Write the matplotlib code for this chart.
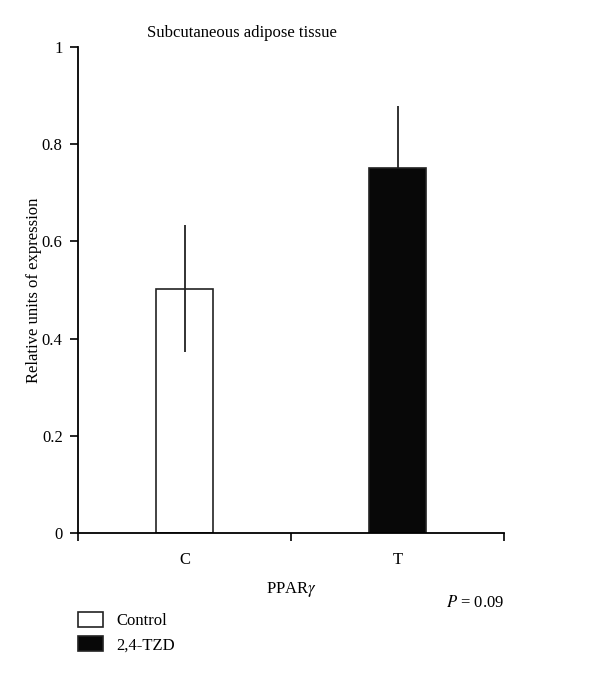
import matplotlib.pyplot as plt
from matplotlib.patches import Patch

groups = ['C', 'T']
legend_labels = ['Control', '2,4-TZD']
values = [0.503, 0.752]
errors = [0.13, 0.127]
colors = ['white', '#080808']
yticks = [0, 0.2, 0.4, 0.6, 0.8, 1]
ytick_labels = ['0', '0.2', '0.4', '0.6', '0.8', '1']

plt.rcParams['font.family'] = ['Liberation Serif', 'DejaVu Serif']
plt.rcParams['mathtext.fontset'] = 'stix'
plt.rcParams['font.size'] = 12

fig = plt.figure(figsize=(6, 6.76), dpi=100)
ax = fig.add_axes([0.13, 0.2115, 0.71, 0.719])

pos = [0.5, 1.5]
ax.bar(pos, values, width=0.27, color=colors, edgecolor='#222222', linewidth=1.2, zorder=2)
# lower whisker of the dark bar is hidden inside the bar
yerr = [[errors[0], 0], errors]
ax.errorbar(pos, values, yerr=yerr, fmt='none', ecolor='#222222', elinewidth=1.3,
            capsize=0, zorder=3)

ax.set_xlim(0, 2)
ax.set_ylim(0, 1)
ax.set_yticks(yticks)
ax.set_yticklabels(ytick_labels)
ax.set_xticks([0, 1, 2])
ax.set_xticklabels(['', '', ''])
ax.set_xticks(pos, minor=True)
ax.set_xticklabels(groups, minor=True)
ax.tick_params(axis='x', which='minor', length=0, pad=14)
ax.tick_params(axis='x', which='major', length=6, width=1.2, direction='out')
ax.tick_params(axis='y', length=6, width=1.2, direction='out', pad=5)

for s in ['top', 'right']:
    ax.spines[s].set_visible(False)
for s in ['left', 'bottom']:
    ax.spines[s].set_linewidth(1.3)

ax.set_ylabel('Relative units of expression', labelpad=0)
ax.set_xlabel(r'PPAR$\mathit{\gamma}$', labelpad=8)

fig.text(0.245, 0.951, 'Subcutaneous adipose tissue', ha='left', va='center')
fig.text(0.84, 0.108, r'$\mathit{P}$ = 0.09', ha='right', va='center')

handles = [Patch(facecolor=c, edgecolor='#222222', linewidth=1.2) for c in colors]
fig.legend(handles, legend_labels, loc='upper left', bbox_to_anchor=(0.105, 0.1174),
           frameon=False, handlelength=1.5, handleheight=1.0, handletextpad=0.8,
           labelspacing=0.45)

fig.savefig('out.png', dpi=100)
